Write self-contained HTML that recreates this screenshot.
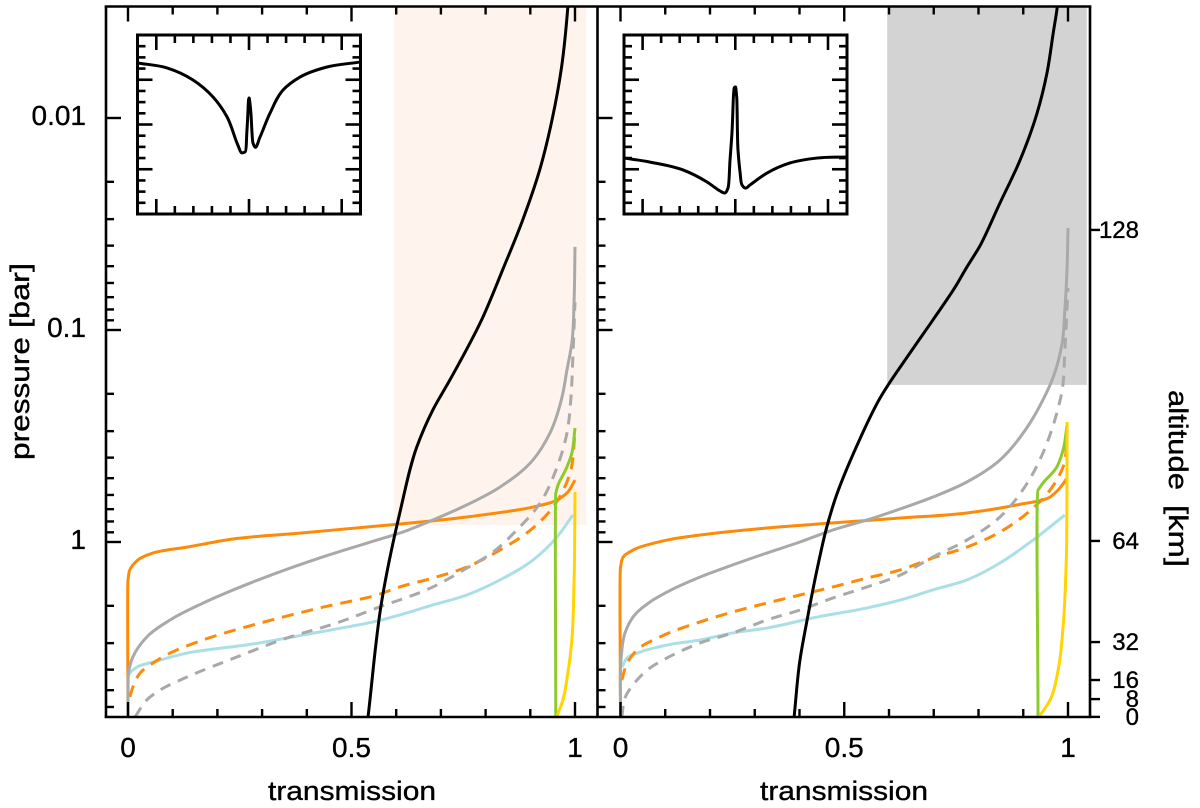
<!DOCTYPE html>
<html lang="en">
<head>
<meta charset="utf-8">
<title>Transmission vs pressure</title>
<style>
html,body{margin:0;padding:0;background:#fff;width:1200px;height:808px;overflow:hidden}
svg{display:block}
text{font-family:"Liberation Sans",sans-serif;fill:#000}
</style>
</head>
<body>
<svg id="chart" xmlns="http://www.w3.org/2000/svg" width="1200" height="808" viewBox="0 0 1200 808">
<defs>
<clipPath id="frame-clip"><rect x="106" y="6" width="984" height="711"></rect></clipPath>
</defs>
<text transform="translate(29,460) rotate(-90)" font-size="27" textLength="123" lengthAdjust="spacingAndGlyphs" stroke="#000" stroke-width="0.35">pressure</text>
<text transform="translate(29,328) rotate(-90)" font-size="27" textLength="65" lengthAdjust="spacingAndGlyphs" stroke="#000" stroke-width="0.35">[bar]</text>
<text x="268" y="800" font-size="27" textLength="168" lengthAdjust="spacingAndGlyphs" stroke="#000" stroke-width="0.35">transmission</text>
<text x="760" y="800" font-size="27" textLength="168" lengthAdjust="spacingAndGlyphs" stroke="#000" stroke-width="0.35">transmission</text>
<text transform="translate(1169,390) rotate(90)" font-size="27" textLength="100" lengthAdjust="spacingAndGlyphs" stroke="#000" stroke-width="0.35">altitude</text>
<text transform="translate(1169,505) rotate(90)" font-size="27" textLength="62" lengthAdjust="spacingAndGlyphs" stroke="#000" stroke-width="0.35">[km]</text>
</svg>
<script>
// ---- axis data ----
const xTickValues = [0,0.1,0.2,0.3,0.4,0.5,0.6,0.7,0.8,0.9,1];
const xMajorValues = [0,0.5,1];
const xTickLabels = ['0','0.5','1'];
const pressureMajorLog = [-2,-1,0];
const pressureTickLabels = ['0.01','0.1','1'];
const pressureMinorValues = [0.02,0.03,0.04,0.05,0.06,0.07,0.08,0.09,0.2,0.3,0.4,0.5,0.6,0.7,0.8,0.9,2,3,4,5,6];
const altitudeLabels = ['128','64','32','16','8','0'];
const altitudeLogP = [-1.472,-0.005,0.472,0.651,0.741,0.825];
const shadeLeft = {tMin:0.596,tMax:1.025,logPBottom:-0.08};
const shadeRight = {tMin:0.596,tMax:1.042,logPBottom:-0.741};
const insetXMajor = [-1,0,1];
const insetXMinor = [-0.8,-0.6,-0.4,-0.2,0.2,0.4,0.6,0.8];
const insetYMajor = [0.8,0.6,0.4];
const insetYMinor = [0.95,0.9,0.85,0.75,0.7,0.65,0.55,0.5,0.45,0.35,0.3,0.25];

// ---- left panel series ----
const leftBlackT = [.537,.568,.608,.646,.682,.72,.794,.838,.883,.921,.95,.97,.984,.986];
const leftBlackLogP = [.825,.274,-.137,-.448,-.623,-.764,-1.061,-1.283,-1.519,-1.755,-2.005,-2.241,-2.524,-2.58];
const leftGrayT = [0,0,.001,.011,.042,.094,.168,.279,.429,.557,.608,.682,.758,.832,.906,.944,.971,.982,.993,.998,1];
const leftGrayLogP = [.825,.698,.618,.542,.448,.368,.288,.189,.075,-.009,-.042,-.104,-.175,-.259,-.387,-.514,-.684,-.811,-.939,-1.142,-1.392];
const leftGrayDashT = [.016,.042,.072,.132,.244,.355,.467,.557,.682,.758,.817,.87,.922,.96,.982,.991,.995,1];
const leftGrayDashLogP = [.825,.745,.698,.637,.542,.453,.382,.311,.212,.123,.047,-.057,-.184,-.354,-.514,-.684,-.858,-1.132];
const leftOrangeT = [0,0,.004,.022,.056,.132,.235,.385,.535,.608,.758,.906,.96,.984,1];
const leftOrangeLogP = [.825,.179,.132,.085,.052,.024,-.014,-.042,-.071,-.085,-.118,-.165,-.198,-.236,-.292];
const leftOrangeDashT = [.004,.011,.027,.056,.094,.168,.279,.429,.557,.608,.682,.758,.832,.906,.951,.989,1];
const leftOrangeDashLogP = [.731,.684,.618,.571,.524,.462,.392,.311,.25,.212,.17,.118,.038,-.066,-.165,-.325,-.514];
const leftBlueT = [0,.004,.02,.065,.132,.279,.391,.557,.608,.682,.758,.832,.906,.96,.995];
const leftBlueLogP = [.698,.618,.59,.561,.524,.481,.439,.373,.344,.297,.25,.179,.085,-.024,-.127];
const leftGreenT = [.957,.957,.962,.982,.993,1];
const leftGreenLogP = [.825,-.231,-.269,-.354,-.42,-.538];
const leftYellowT = [.959,.973,.984,.993,.998,1];
const leftYellowLogP = [.825,.745,.618,.462,.179,-.236];

// ---- right panel series ----
const rightBlackT = [.388,.401,.417,.439,.461,.479,.529,.58,.647,.698,.748,.774,.802,.848,.893,.931,.953,.967,.976,.978];
const rightBlackLogP = [.825,.557,.368,.132,-.071,-.198,-.458,-.679,-.892,-1.047,-1.203,-1.297,-1.392,-1.599,-1.802,-2.024,-2.212,-2.401,-2.524,-2.58];
const rightGrayT = [0,.001,.01,.028,.066,.104,.178,.251,.327,.401,.475,.551,.625,.698,.774,.848,.909,.944,.967,.987,.993,.998,1];
const rightGrayLogP = [.825,.557,.429,.354,.283,.236,.165,.108,.052,0,-.057,-.104,-.156,-.212,-.283,-.387,-.542,-.67,-.778,-.939,-1.094,-1.297,-1.481];
const rightGrayDashT = [.003,.01,.037,.066,.104,.178,.251,.327,.401,.475,.551,.625,.698,.774,.848,.909,.944,.975,.987,.993,1];
const rightGrayDashLogP = [.825,.736,.651,.594,.547,.476,.429,.368,.321,.264,.212,.156,.071,-.009,-.118,-.278,-.42,-.608,-.717,-.906,-1.198];
const rightOrangeT = [0,0,.006,.028,.104,.178,.327,.475,.625,.774,.886,.96,.982,.998];
const rightOrangeLogP = [.825,.118,.071,.038,-.009,-.033,-.066,-.09,-.113,-.137,-.175,-.212,-.255,-.302];
const rightOrangeDashT = [.003,.015,.037,.088,.178,.251,.327,.401,.475,.551,.625,.698,.774,.848,.922,.96,.989,.998];
const rightOrangeDashLogP = [.651,.571,.509,.448,.377,.33,.288,.25,.212,.17,.132,.075,.024,-.047,-.16,-.245,-.354,-.561];
const rightBlueT = [.003,.015,.044,.104,.178,.251,.327,.439,.551,.625,.698,.774,.848,.922,.993];
const rightBlueLogP = [.59,.547,.519,.486,.462,.429,.406,.354,.311,.274,.226,.179,.099,-.009,-.127];
const rightGreenT = [.933,.933,.944,.975,.989,.998];
const rightGreenLogP = [.825,-.245,-.278,-.354,-.434,-.552];
const rightYellowT = [.935,.96,.978,.989,.996,.998];
const rightYellowLogP = [.825,.745,.604,.401,.099,-.566];

// ---- inset profiles ----
const insetLeftU = [-1.2,-.885,-.604,-.388,-.237,-.129,-.076,-.043,-.022,-.005,0,.011,.022,.043,.065,.119,.227,.367,.55,.841,1.2];
const insetLeftV = [.875,.853,.799,.723,.634,.517,.473,.477,.575,.71,.718,.692,.642,.517,.499,.544,.651,.754,.812,.857,.879];
const insetRightU = [-1.2,-.92,-.564,-.305,-.165,-.111,-.079,-.057,-.036,-.014,0,.015,.029,.051,.072,.105,.159,.342,.59,.881,1.2];
const insetRightV = [.45,.432,.397,.343,.303,.294,.316,.441,.562,.763,.768,.723,.486,.388,.33,.316,.33,.383,.428,.45,.455];

// ---- scales ----
const NS = 'http://www.w3.org/2000/svg';
const svg = document.getElementById('chart');
const yP = l => 542 + 212 * l;
const xLeft = t => 128 + 447 * t;
const xRight = t => 620.5 + 447.5 * t;

function make(tag, attrs, parent) {
  const el = document.createElementNS(NS, tag);
  for (const k in attrs) el.setAttribute(k, attrs[k]);
  (parent || svg).appendChild(el);
  return el;
}
function smoothPath(pts) {
  let d = 'M' + pts[0][0].toFixed(2) + ' ' + pts[0][1].toFixed(2);
  const last = pts.length - 1;
  const seg = i => Math.hypot(pts[i + 1][0] - pts[i][0], pts[i + 1][1] - pts[i][1]) || 1;
  const dir = i => {
    let tx, ty;
    if (i === 0) {
      const s = seg(0);
      tx = (pts[1][0] - pts[0][0]) / s; ty = (pts[1][1] - pts[0][1]) / s;
    } else if (i === last) {
      const s = seg(i - 1);
      tx = (pts[i][0] - pts[i - 1][0]) / s; ty = (pts[i][1] - pts[i - 1][1]) / s;
    } else {
      const a = seg(i - 1), b = seg(i);
      const ux = (pts[i][0] - pts[i - 1][0]) / a, uy = (pts[i][1] - pts[i - 1][1]) / a;
      const vx = (pts[i + 1][0] - pts[i][0]) / b, vy = (pts[i + 1][1] - pts[i][1]) / b;
      tx = (ux * b + vx * a) / (a + b); ty = (uy * b + vy * a) / (a + b);
    }
    const n = Math.hypot(tx, ty) || 1;
    return [tx / n, ty / n];
  };
  for (let i = 0; i < last; i++) {
    const p = pts[i], q = pts[i + 1], s = seg(i);
    const h0 = (i > 0 ? Math.min(s, 1.5 * seg(i - 1)) : s) / 3;
    const h1 = (i + 1 < last ? Math.min(s, 1.5 * seg(i + 1)) : s) / 3;
    const a = dir(i), b = dir(i + 1);
    d += 'C' + (p[0] + a[0] * h0).toFixed(2) + ' ' + (p[1] + a[1] * h0).toFixed(2) + ' ' +
         (q[0] - b[0] * h1).toFixed(2) + ' ' + (q[1] - b[1] * h1).toFixed(2) + ' ' +
         q[0].toFixed(2) + ' ' + q[1].toFixed(2);
  }
  return d;
}
function line(x1, y1, x2, y2, w, name, parent) {
  const el = make('line', {x1, y1, x2, y2, stroke: '#000', 'stroke-width': w, 'stroke-linecap': 'butt'}, parent);
  
  
  return el;
}
function label(x, y, str, size, anchor, name) {
  const el = make('text', {x, y, 'font-size': size, 'text-anchor': anchor, stroke: '#000', 'stroke-width': 0.35});
  el.textContent = str;
  
  
  return el;
}

// ---- shaded regions ----
const shadeA = make('rect', {x: xLeft(shadeLeft.tMin), y: 6, width: xLeft(shadeLeft.tMax) - xLeft(shadeLeft.tMin), height: yP(shadeLeft.logPBottom) - 6, fill: '#fef4ed'});


const shadeB = make('rect', {x: xRight(shadeRight.tMin), y: 6, width: xRight(shadeRight.tMax) - xRight(shadeRight.tMin), height: yP(shadeRight.logPBottom) - 6, fill: '#d3d3d3'});



// ---- series ----
const curvesLayer = make('g', {'clip-path': 'url(#frame-clip)'});


function curve(ts, ls, xf, color, dash, w, name) {
  const pts = ts.map((t, i) => [xf(t), yP(ls[i])]);
  const el = make('path', {d: smoothPath(pts), fill: 'none', stroke: color, 'stroke-width': w, 'stroke-linejoin': 'round'}, curvesLayer);
  if (dash) el.setAttribute('stroke-dasharray', dash);
  
  
}
const cOrange = '#fd8a08', cGray = '#a9a9a9', cBlue = '#abdfe6', cGreen = '#8dcb2c', cYellow = '#ffd400';
curve(leftBlueT, leftBlueLogP, xLeft, cBlue, null, 3, 'left-blue-curve');
curve(leftOrangeT, leftOrangeLogP, xLeft, cOrange, null, 3, 'left-orange-curve');
curve(leftOrangeDashT, leftOrangeDashLogP, xLeft, cOrange, '12 8', 3, 'left-orange-dashed-curve');
curve(leftGrayT, leftGrayLogP, xLeft, cGray, null, 3, 'left-gray-curve');
curve(leftGrayDashT, leftGrayDashLogP, xLeft, cGray, '11 8', 3, 'left-gray-dashed-curve');
curve(leftGreenT, leftGreenLogP, xLeft, cGreen, null, 3, 'left-green-curve');
curve(leftYellowT, leftYellowLogP, xLeft, cYellow, null, 3, 'left-yellow-curve');
curve(leftBlackT, leftBlackLogP, xLeft, '#000', null, 3, 'left-black-curve');
curve(rightBlueT, rightBlueLogP, xRight, cBlue, null, 3, 'right-blue-curve');
curve(rightOrangeT, rightOrangeLogP, xRight, cOrange, null, 3, 'right-orange-curve');
curve(rightOrangeDashT, rightOrangeDashLogP, xRight, cOrange, '12 8', 3, 'right-orange-dashed-curve');
curve(rightGrayT, rightGrayLogP, xRight, cGray, null, 3, 'right-gray-curve');
curve(rightGrayDashT, rightGrayDashLogP, xRight, cGray, '11 8', 3, 'right-gray-dashed-curve');
curve(rightGreenT, rightGreenLogP, xRight, cGreen, null, 3, 'right-green-curve');
curve(rightYellowT, rightYellowLogP, xRight, cYellow, null, 3, 'right-yellow-curve');
curve(rightBlackT, rightBlackLogP, xRight, '#000', null, 3, 'right-black-curve');

// ---- frame ----
const W = 2.6;
line(104.7, 6.5, 1091.3, 6.5, W, 'top-axis');
line(104.7, 717, 1091.3, 717, W, 'bottom-axis');
line(106, 6, 106, 718, W, 'left-axis');
line(597.5, 6, 597.5, 718, W, 'panel-divider-axis');
line(1090, 6, 1090, 718, W, 'right-axis');

// ---- x ticks ----
[xLeft, xRight].forEach(xf => {
  xTickValues.forEach(v => {
    const major = xMajorValues.includes(v);
    const len = major ? 15 : 8;
    line(xf(v), 6.5, xf(v), 6.5 + len, 2.4, 'x-tick-top', null);
    line(xf(v), 717, xf(v), 717 - len, 2.4, 'x-tick-bottom', null);
  });
  xMajorValues.forEach((v, i) => label(xf(v), 757, xTickLabels[i], 28, 'middle', 'x-tick-label'));
});

// ---- y ticks ----
[106, 597.5].forEach(x0 => {
  pressureMajorLog.forEach(l => line(x0, yP(l), x0 + 15, yP(l), 2.4, 'pressure-major-tick'));
  pressureMinorValues.forEach(p => {
    const y = yP(Math.log10(p));
    line(x0, y, x0 + 8, y, 2.4, 'pressure-minor-tick');
  });
});
pressureMajorLog.forEach((l, i) => label(86, yP(l) + 7, pressureTickLabels[i], 28, 'end', 'pressure-tick-label'));

// ---- altitude ticks ----
altitudeLogP.forEach((l, i) => {
  line(1090, yP(l), 1100, yP(l), 2.4, 'altitude-tick');
  label(1139, yP(l) + 8, altitudeLabels[i], 24, 'end', 'altitude-tick-label');
});

// ---- insets ----
function inset(x0, uCentre, us, vs, name) {
  const g = make('g', {});
  
  
  const top = 35, bottom = 214, w = 223;
  const xU = u => uCentre + 92.7 * u;
  const yV = v => top + (1 - v) * 223.75;
  const T = 2.6;
  insetXMajor.forEach(u => {
    line(xU(u), top, xU(u), top + 15, T, 'inset-x-major-tick', g);
    line(xU(u), bottom, xU(u), bottom - 15, T, 'inset-x-major-tick', g);
  });
  insetXMinor.forEach(u => {
    line(xU(u), top, xU(u), top + 8, T, 'inset-x-minor-tick', g);
    line(xU(u), bottom, xU(u), bottom - 8, T, 'inset-x-minor-tick', g);
  });
  insetYMajor.forEach(v => {
    line(x0, yV(v), x0 + 15, yV(v), T, 'inset-y-major-tick', g);
    line(x0 + w, yV(v), x0 + w - 15, yV(v), T, 'inset-y-major-tick', g);
  });
  insetYMinor.forEach(v => {
    line(x0, yV(v), x0 + 8, yV(v), T, 'inset-y-minor-tick', g);
    line(x0 + w, yV(v), x0 + w - 8, yV(v), T, 'inset-y-minor-tick', g);
  });
  const frame = make('rect', {x: x0, y: top, width: w, height: bottom - top, fill: 'none', stroke: '#000', 'stroke-width': 3}, g);
  
  
  const pts = us.map((u, i) => [xU(u), yV(vs[i])]);
  const p = make('path', {d: smoothPath(pts), fill: 'none', stroke: '#000', 'stroke-width': 3, 'stroke-linejoin': 'round'}, g);
  
  
}
inset(137.5, 249, insetLeftU, insetLeftV, 'inset-left');
inset(624, 735.3, insetRightU, insetRightV, 'inset-right');
</script>
</body>
</html>
